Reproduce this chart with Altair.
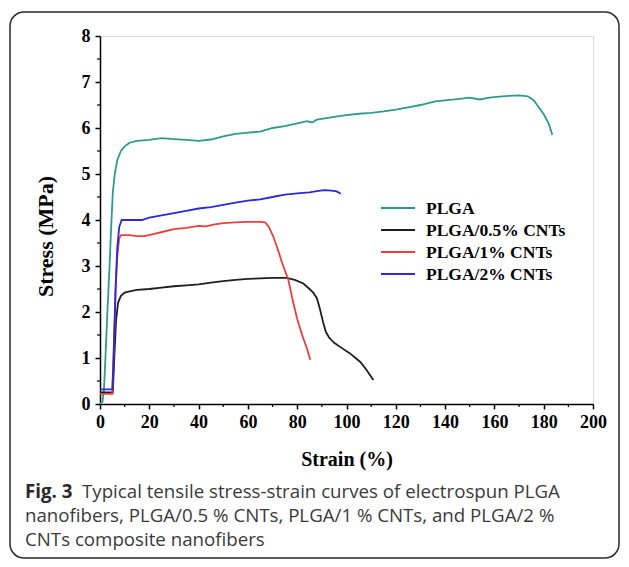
import altair as alt
import pandas as pd

# ---- data ----
names = ["PLGA", "PLGA/0.5% CNTs", "PLGA/1% CNTs", "PLGA/2% CNTs"]
colors = ["#2f9b8c", "#1e1e1e", "#e8403f", "#2b2bd0"]

plga_x = [0, 1, 1.6, 2.2, 3, 3.8, 4.5, 5.2, 6, 7, 8.5, 10, 12, 15, 20, 25, 30, 35, 40, 45, 50, 55, 60,
          65, 70, 75, 80, 84, 86, 88, 95, 100, 105, 110, 115, 120, 125, 130, 136, 140, 145, 150, 154,
          158, 162, 166, 170, 173.6, 176, 178, 180, 182, 183.5]
plga_y = [0.0, 0.05, 0.3, 1.0, 2.0, 2.9, 3.8, 4.6, 5.0, 5.3, 5.5, 5.6, 5.68, 5.72, 5.74, 5.78, 5.76, 5.74,
          5.72, 5.75, 5.82, 5.87, 5.9, 5.92, 6.0, 6.04, 6.1, 6.15, 6.12, 6.18, 6.24, 6.28, 6.31, 6.33, 6.36,
          6.4, 6.45, 6.5, 6.58, 6.6, 6.63, 6.66, 6.62, 6.66, 6.68, 6.7, 6.71, 6.69, 6.6, 6.45, 6.3, 6.1, 5.85]

c05_x = [0, 5.2, 5.8, 6.5, 7.3, 8.5, 10, 12, 15, 20, 25, 30, 35, 40, 45, 50, 55, 60, 65, 70, 75.7, 79,
         82.5, 85, 86.5, 88, 89.3, 90.5, 91.6, 93, 95, 98, 101.4, 105.5, 108, 110.9]
c05_y = [0.25, 0.25, 1.0, 1.8, 2.2, 2.35, 2.42, 2.45, 2.48, 2.5, 2.53, 2.56, 2.58, 2.6, 2.64, 2.67, 2.7,
         2.72, 2.73, 2.74, 2.74, 2.7, 2.62, 2.5, 2.42, 2.3, 2.05, 1.78, 1.57, 1.44, 1.33, 1.22, 1.1, 0.92,
         0.75, 0.52]

c1_x = [0, 5, 5.6, 6.3, 7, 7.8, 8.5, 12, 15, 18, 22, 26, 30, 35, 40, 43, 46, 50, 55, 60, 65, 67, 68.5,
        70.3, 72, 74, 76.4, 78, 80, 82, 84, 85.3]
c1_y = [0.22, 0.22, 1.2, 2.4, 3.2, 3.6, 3.67, 3.67, 3.65, 3.65, 3.7, 3.75, 3.8, 3.83, 3.87, 3.86, 3.9,
        3.93, 3.95, 3.96, 3.96, 3.95, 3.85, 3.64, 3.38, 3.05, 2.7, 2.3, 1.85, 1.5, 1.2, 0.96]

c2_x = [0, 5, 5.5, 6.3, 7, 7.8, 8.8, 12, 17, 20, 25, 30, 35, 40, 45, 50, 55, 60, 65, 70, 75, 80, 85,
        88, 91, 94, 96, 97.7]
c2_y = [0.32, 0.32, 1.0, 2.5, 3.4, 3.85, 4.0, 4.0, 4.0, 4.05, 4.1, 4.15, 4.2, 4.25, 4.28, 4.33, 4.38,
        4.42, 4.45, 4.5, 4.55, 4.58, 4.6, 4.63, 4.65, 4.64, 4.62, 4.57]

y_ticks = [0, 1, 2, 3, 4, 5, 6, 7, 8]
y_minor = [0.5, 1.5, 2.5, 3.5, 4.5, 5.5, 6.5, 7.5]
x_ticks = [0, 20, 40, 60, 80, 100, 120, 140, 160, 180, 200]
x_minor = [10, 30, 50, 70, 90, 110, 130, 150, 170, 190]

caption_bold = "Fig. 3"
caption_lines = [
    "Typical tensile stress-strain curves of electrospun PLGA",
    "nanofibers, PLGA/0.5 % CNTs, PLGA/1 % CNTs, and PLGA/2 %",
    "CNTs composite nanofibers",
]

# ---- build table ----
frames = []
for i, (n, xs, ys) in enumerate(zip(names, [plga_x, c05_x, c1_x, c2_x], [plga_y, c05_y, c1_y, c2_y])):
    frames.append(pd.DataFrame({"strain": xs, "stress": ys, "series": n, "k": i}))
df = pd.concat(frames, ignore_index=True)

W, H = 493, 368
SERIF = "Liberation Serif"
SANS = "Open Sans"

xscale = alt.Scale(domain=[0, 200], nice=False, zero=False)
yscale = alt.Scale(domain=[0, 8], nice=False, zero=False)

lines = alt.Chart(df).mark_line(strokeWidth=1.8).encode(
    x=alt.X("strain:Q", scale=xscale, axis=alt.Axis(
        values=x_ticks, format="d", title="Strain (%)", grid=False,
        labelFont=SERIF, labelFontWeight="bold", labelFontSize=18, labelColor="black",
        labelPadding=4, tickSize=5, tickColor="black", tickWidth=1.5,
        domainColor="black", domainWidth=1.5, labelOverlap=False, labelFlush=False,
        titleFont=SERIF, titleFontWeight="bold", titleFontSize=20, titleColor="black",
        titleX=W / 2, titleY=55, titleAlign="center", titleBaseline="middle")),
    y=alt.Y("stress:Q", scale=yscale, axis=alt.Axis(
        values=y_ticks, format="d", title="Stress (MPa)", grid=False,
        labelFont=SERIF, labelFontWeight="bold", labelFontSize=18, labelColor="black",
        labelPadding=5, tickSize=5, tickColor="black", tickWidth=1.5,
        domainColor="black", domainWidth=1.5, labelOverlap=False, labelFlush=False,
        titleFont=SERIF, titleFontWeight="bold", titleFontSize=22, titleColor="black",
        titleAngle=270, titleX=-55, titleY=200, titleAlign="center", titleBaseline="middle")),
    color=alt.Color("series:N", scale=alt.Scale(domain=names, range=colors), legend=None),
    detail="k:Q",
)

ymin_df = pd.DataFrame({"v": y_minor})
xmin_df = pd.DataFrame({"v": x_minor})
ymin = alt.Chart(ymin_df).mark_rule(color="black", strokeWidth=1.2).encode(
    y=alt.Y("v:Q", scale=yscale), x=alt.value(-3), x2=alt.value(0))
xmin = alt.Chart(xmin_df).mark_rule(color="black", strokeWidth=1.2).encode(
    x=alt.X("v:Q", scale=xscale), y=alt.value(H), y2=alt.value(H + 3))

layers = [lines, ymin, xmin]

# ---- legend (manual) ----
for i, (n, c) in enumerate(zip(names, colors)):
    yy = 172 + i * 22
    layers.append(alt.Chart(pd.DataFrame({"n": [n]})).mark_rule(color=c, strokeWidth=2).encode(
        x=alt.value(281), x2=alt.value(315), y=alt.value(yy)))
    layers.append(alt.Chart(pd.DataFrame({"n": [n]})).mark_text(
        font=SERIF, fontWeight="bold", fontSize=17.5, align="left", baseline="middle", color="black"
    ).encode(text="n:N", x=alt.value(326), y=alt.value(yy + 1)))

# ---- caption box and text ----
layers.append(alt.Chart(pd.DataFrame({"a": [0]})).mark_rect(
    fill=None, fillOpacity=0, stroke="#2a2a2a", strokeWidth=1.5, cornerRadius=14
).encode(x=alt.value(-90), x2=alt.value(519), y=alt.value(-24), y2=alt.value(522)))

CAP_Y = 462
CAP_DY = 24
layers.append(alt.Chart(pd.DataFrame({"t": [caption_bold]})).mark_text(
    font=SANS, fontWeight="bold", fontSize=18.7, align="left", baseline="alphabetic", color="#2a2a2a"
).encode(text="t:N", x=alt.value(-75), y=alt.value(CAP_Y)))
for j, line in enumerate(caption_lines):
    xx = -18 if j == 0 else -75
    layers.append(alt.Chart(pd.DataFrame({"t": [line]})).mark_text(
        font=SANS, fontSize=18.7, align="left", baseline="alphabetic", color="#3a3a3a"
    ).encode(text="t:N", x=alt.value(xx), y=alt.value(CAP_Y + CAP_DY * j)))

chart = alt.layer(*layers).properties(
    width=W, height=H,
    padding={"left": 92, "top": 28, "right": 28, "bottom": 155},
    autosize=alt.AutoSizeParams(type="none"),
).configure_view(stroke="black", strokeWidth=1.5).configure(background="white")

chart.save("out.html", embed_options={"renderer": "svg", "actions": False})
